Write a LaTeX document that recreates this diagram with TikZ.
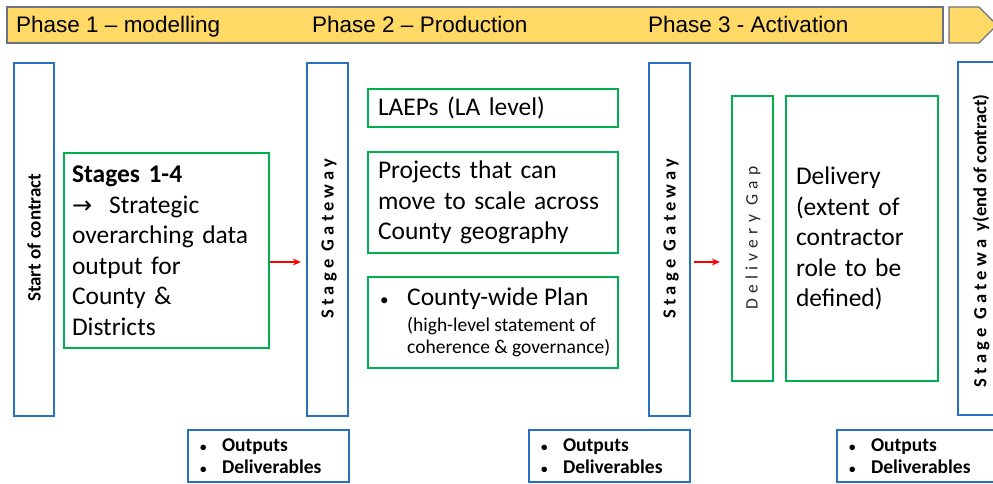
\documentclass[tikz,border=0pt]{standalone}
\usepackage{fontspec}
\setmainfont{Carlito}
\newfontfamily\arialf{Liberation Sans}
\newfontfamily\djv{DejaVu Sans}
\usetikzlibrary{arrows.meta}
\definecolor{cblue}{HTML}{2672C0}
\definecolor{cgreen}{HTML}{00B050}
\definecolor{cyellow}{HTML}{FFD966}
\definecolor{cgrey}{HTML}{6B7280}
\definecolor{cred}{HTML}{FF0000}
\tikzset{
  bluebox/.style={draw=cblue, line width=2.2pt, inner sep=0pt},
  greenbox/.style={draw=cgreen, line width=2.2pt, inner sep=0pt, align=left},
  barshape/.style={draw=cgrey, fill=cyellow, line width=1.2pt},
  phasetxt/.style={font=\arialf\fontsize{22.5}{25}\selectfont, inner sep=0pt},
  redarrow/.style={draw=cred, line width=1.8pt, -{Stealth[length=8pt,width=7pt]}},
  bigtxt/.style={font=\fontsize{25.5}{30.5}\selectfont},
  smalltxt/.style={anchor=base west, inner sep=0pt, font=\fontsize{19.5}{22}\selectfont},
  gwtxt/.style={rotate=90, inner sep=0pt, font=\bfseries\fontsize{18.5}{20}\selectfont\addfontfeature{LetterSpace=23}},
  outbox/.style={bluebox, minimum width=161, minimum height=52, text width=137, align=left,
    font=\bfseries\fontsize{19.5}{22}\selectfont}
}
\newcommand{\bul}{\makebox[22pt][l]{\fontsize{13}{13}\selectfont\textbullet}}
\begin{document}
\begin{tikzpicture}[x=1pt,y=-1pt]
\useasboundingbox (0,0) rectangle (993,484);
\clip (0,0) rectangle (993,484);

% phase bar
\node[barshape, minimum width=936, minimum height=36, inner sep=0pt] (bar) at (475,25) {};
\draw[barshape] (949,7) -- (979,7) -- (997,25) -- (979,43) -- (949,43) -- cycle;
\node[phasetxt, anchor=base west] (ph1) at (16,33) {Phase 1 – modelling};
\node[phasetxt, anchor=base west] (ph2) at (312,33) {Phase 2 – Production};
\node[phasetxt, anchor=base west] (ph3) at (648,33) {Phase 3 - Activation};

% gateway columns
\node[bluebox, minimum width=40, minimum height=353] (start) at (34,239.5) {};
\node[rotate=90, inner sep=0pt, font=\bfseries\fontsize{19}{21}\selectfont] (startt) at (34,238) {Start of contract};

\node[bluebox, minimum width=41, minimum height=353] (gw1) at (327.5,239.5) {};
\node[gwtxt] (gw1t) at (329,238.5) {Stage Gateway};

\node[bluebox, minimum width=41, minimum height=353] (gw2) at (669.5,239.5) {};
\node[gwtxt] (gw2t) at (671,238.5) {Stage Gateway};

\node[bluebox, minimum width=42, minimum height=353] (gw3) at (979,238.5) {};
\node[rotate=90, inner sep=0pt, font=\bfseries\fontsize{18.5}{20}\selectfont] (gw3t) at (981,241)
  {{\addfontfeature{LetterSpace=23}Stage Gatewa y}(end of contract)};

% phase 1 content
\node[greenbox, bigtxt, minimum width=205, minimum height=195, text width=189] (stages) at (166.5,250.5)
  {\textbf{Stages 1-4}\\{\djv\fontsize{24}{24}\selectfont →}\ \ Strategic\\overarching data\\output for\\County \&\\Districts};

% phase 2 content
\node[greenbox, bigtxt, minimum width=250, minimum height=38, text width=230] (laeps) at (493,108)
  {LAEPs (LA level)};
\node[greenbox, bigtxt, minimum width=250, minimum height=101, text width=230] (projects) at (493,202.5)
  {Projects that can\\move to scale across\\County geography};
\node[greenbox, minimum width=250, minimum height=91] (plan) at (493,322.5) {};
\node[anchor=base west, inner sep=0pt, font=\fontsize{25.5}{27}\selectfont] (planA) at (380,305)
  {\makebox[27pt][l]{\fontsize{17}{17}\selectfont\textbullet}County-wide Plan};
\node[smalltxt] (planB) at (407,331) {(high-level statement of};
\node[smalltxt] (planC) at (407,353) {coherence \& governance)};

% phase 3 content
\node[greenbox, minimum width=41, minimum height=285] (gap) at (752.5,238.5) {};
\node[rotate=90, inner sep=0pt, text=black!85, font=\fontsize{17.5}{19}\selectfont\addfontfeature{LetterSpace=30}] (gapt) at (753,238) {Delivery Gap};
\node[greenbox, bigtxt, minimum width=152, minimum height=285, text width=132] (delivery) at (862,238.5)
  {Delivery\\(extent of\\contractor\\role to be\\defined)};

% arrows
\draw[redarrow, shorten >=5pt] ([yshift=-11.5pt]stages.east) -- ([yshift=-22.5pt]gw1.west);
\draw[redarrow, shorten <=3pt, shorten >=11pt] ([yshift=-22.5pt]gw2.east) -- ([yshift=-23.5pt]gap.west);

% outputs boxes
\node[outbox] (out1) at (268.5,456) {\bul Outputs\\\bul Deliverables};
\node[outbox] (out2) at (609.5,456) {\bul Outputs\\\bul Deliverables};
\node[outbox] (out3) at (917.5,456) {\bul Outputs\\\bul Deliverables};
\end{tikzpicture}
\end{document}
